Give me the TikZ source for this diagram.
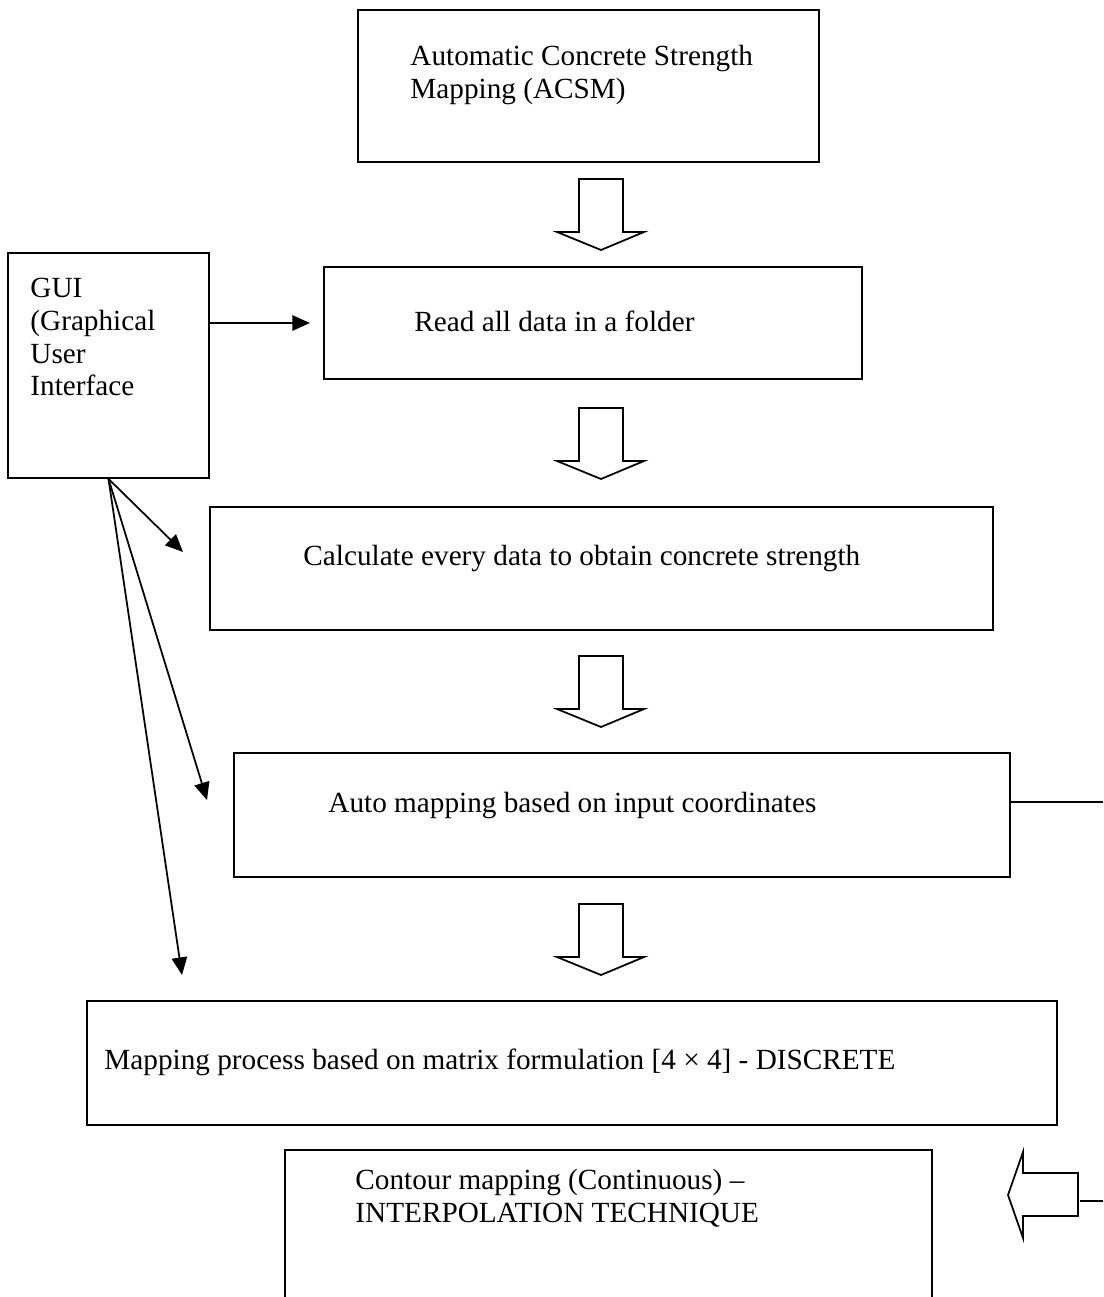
\documentclass[tikz,border=0pt]{standalone}
\usepackage{fontspec}
\setmainfont{Liberation Serif}
\usetikzlibrary{arrows.meta, calc, fit}

\begin{document}
\begin{tikzpicture}[x=0.455pt, y=-0.455pt,
	box/.style={draw, line width=0.8pt, inner sep=0pt},
	txt/.style={anchor=west, align=left, inner sep=0pt, font=\fontsize{13.3}{15}\selectfont},
	conn/.style={line width=0.8pt, -{Triangle[length=8pt,width=7pt]}},
	blockdown/.pic={\draw[line width=0.8pt] (-22,-35) -- (22,-35) -- (22,18) -- (43,18) -- (0,36) -- (-44,18) -- (-22,18) -- cycle;},
	blockleft/.pic={\draw[line width=0.8pt] (0,0) -- (15,-43) -- (15,-22) -- (70,-22) -- (70,21) -- (15,21) -- (15,43) -- cycle;}]
	\useasboundingbox (0,0) rectangle (1103,1297);
	\clip (0,0) rectangle (1103,1297);
%	boxes
	\node[box, fit={(358,10) (819,162)}] (acsm) {};
	\node[box, fit={(8,253) (209,478)}] (gui) {};
	\node[box, fit={(324,267) (862,379)}] (read) {};
	\node[box, fit={(210,507) (993,630)}] (calc) {};
	\node[box, fit={(234,753) (1010,877)}] (auto) {};
	\node[box, fit={(87,1001) (1057,1125)}] (matrix) {};
	\node[box, fit={(285,1150) (932,1330)}] (contour) {};
%	texts
	\node[txt] (acsm-t) at (410,75) {Automatic Concrete Strength\\ Mapping (ACSM)};
	\node[txt] (gui-t) at (30,337) {GUI\\ (Graphical\\ User\\ Interface};
	\node[txt] (read-t) at (414,321) {Read all data in a folder};
	\node[txt] (calc-t) at (303,559) {Calculate every data to obtain concrete strength};
	\node[txt] (auto-t) at (328,806) {Auto mapping based on input coordinates};
	\node[txt] (matrix-t) at (104,1062) {Mapping process based on matrix formulation [4 × 4] - DISCRETE};
	\node[txt] (contour-t) at (355,1198) {Contour mapping (Continuous) --\\ INTERPOLATION TECHNIQUE};
%	block arrows
	\pic at (601,214) {blockdown};
	\pic at (601,443) {blockdown};
	\pic at (601,691) {blockdown};
	\pic at (601,939) {blockdown};
	\pic at (1008,1195) {blockleft};
%	GUI connectors
	\coordinate (c-calc) at (183,552);
	\coordinate (c-auto) at (207,800);
	\coordinate (c-matrix) at (182,975);
	\draw[conn, shorten >=6pt] (gui.east |- read.west) -- (read.west);
	\draw[conn] (gui.south) -- (c-calc);
	\draw[conn] (gui.south) -- (c-auto);
	\draw[conn] (gui.south) -- (c-matrix);
%	open lines on the right
	\coordinate (out-auto) at (1103,802);
	\coordinate (out-contour) at (1103,1201);
	\draw[line width=0.8pt] (auto.east |- out-auto) -- (out-auto);
	\draw[line width=0.8pt] (1080,1201) -- (out-contour);
\end{tikzpicture}
\end{document}
